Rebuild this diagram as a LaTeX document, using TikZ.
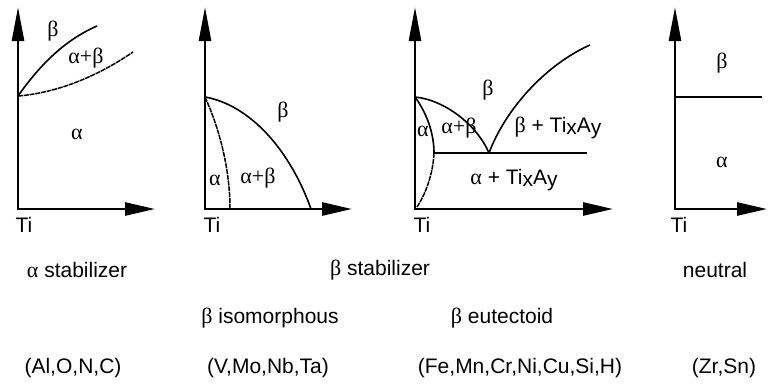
\documentclass[tikz,border=0pt]{standalone}
\usepackage{fontspec}
\setmainfont{Liberation Sans}
\newfontfamily\grk{Liberation Serif}
\usetikzlibrary{arrows.meta}
\tikzset{
  axisline/.style={line width=2.6pt, line join=miter,
    {Triangle[length=34pt,width=12pt]}-{Triangle[length=30pt,width=13pt]}},
  bound/.style={line width=1.6pt},
  fineline/.style={line width=1.5pt, dash pattern=on 5pt off 0.8pt},
  lbl/.style={inner sep=0pt, font=\fontsize{21}{25}\selectfont},
  glbl/.style={inner sep=0pt, font=\fontsize{22}{26}\selectfont\grk},
}
\newcommand{\lowx}[1]{\raisebox{-0.25ex}{#1}}
\begin{document}
\begin{tikzpicture}[x=1pt,y=-1pt]
\useasboundingbox (0,0) rectangle (768,389);
% ---------- panel 1: alpha stabilizer
\coordinate (y1) at (18,7);
\coordinate (x1) at (155,209);
\coordinate (s1) at (18,96);
\coordinate (e1a) at (97,26);
\coordinate (e1b) at (133,52);
\draw[axisline] (y1) |- (x1);
\draw[bound] (s1) .. controls (35,72) and (60,42) .. (e1a);
\draw[fineline] (s1) .. controls (55,93) and (95,78) .. (e1b);
\node[glbl] (b1) at (53,31) {β};
\node[glbl] (ab1) at (86,58) {α+β};
\node[glbl] (a1) at (77,134) {α};
\node[lbl] (ti1) at (24,225) {Ti};
% ---------- panel 2: beta isomorphous
\coordinate (y2) at (205,7);
\coordinate (x2) at (352,209);
\coordinate (s2) at (205,97);
\coordinate (e2a) at (311,209);
\coordinate (e2b) at (230,209);
\draw[axisline] (y2) |- (x2);
\draw[bound] (s2) .. controls (250,105) and (290,150) .. (e2a);
\draw[fineline] (s2) .. controls (220,130) and (230,170) .. (e2b);
\node[glbl] (b2) at (283,112) {β};
\node[glbl] (a2) at (215,180) {α};
\node[glbl] (ab2) at (258,178) {α+β};
\node[lbl] (ti2) at (212,225) {Ti};
% ---------- panel 3: beta eutectoid
\coordinate (y3) at (415,7);
\coordinate (x3) at (613,209);
\coordinate (s3) at (415,97);
\coordinate (eu) at (489,153);
\coordinate (k3) at (434,153);
\coordinate (h3) at (587,153);
\coordinate (r3) at (590,45);
\coordinate (o3) at (417,207);
\draw[axisline] (y3) |- (x3);
\draw[bound] (s3) .. controls (445,100) and (477,125) .. (eu);
\draw[bound] (eu) .. controls (505,110) and (545,65) .. (r3);
\draw[bound] (k3) -- (h3);
\draw[bound] (s3) .. controls (428,115) and (434,135) .. (k3);
\draw[fineline] (k3) .. controls (433,175) and (425,195) .. (o3);
\node[glbl] (b3) at (488,90) {β};
\node[glbl] (a3) at (423,131) {α};
\node[glbl] (ab3) at (459,128) {α+β};
\node[lbl] (bt3) at (558,128) {{\grk\fontsize{22}{26}\selectfont β} + Ti\lowx{x}A\lowx{y}};
\node[lbl] (at3) at (514,180) {{\grk\fontsize{22}{26}\selectfont α} + Ti\lowx{x}A\lowx{y}};
\node[lbl] (ti3) at (422,225) {Ti};
% ---------- panel 4: neutral
\coordinate (y4) at (675,7);
\coordinate (x4) at (767,209);
\coordinate (s4) at (675,97);
\coordinate (e4) at (762,97);
\draw[axisline] (y4) |- (x4);
\draw[bound] (s4) -- (e4);
\node[glbl] (b4) at (722,63) {β};
\node[glbl] (a4) at (722,162) {α};
\node[lbl] (ti4) at (679,225) {Ti};
% ---------- captions
\node[lbl] (cap1) at (77,270) {{\grk\fontsize{22}{26}\selectfont α} stabilizer};
\node[lbl] (cap2) at (380,270) {{\grk\fontsize{22}{26}\selectfont β} stabilizer};
\node[lbl] (cap4) at (715,270) {neutral};
\node[lbl] (sub2) at (270,318) {{\grk\fontsize{22}{26}\selectfont β} isomorphous};
\node[lbl] (sub3) at (502,318) {{\grk\fontsize{22}{26}\selectfont β} eutectoid};
\node[lbl] (el1) at (73,368) {(Al,O,N,C)};
\node[lbl] (el2) at (268,368) {(V,Mo,Nb,Ta)};
\node[lbl] (el3) at (520,368) {(Fe,Mn,Cr,Ni,Cu,Si,H)};
\node[lbl] (el4) at (724,368) {(Zr,Sn)};
\end{tikzpicture}
\end{document}
